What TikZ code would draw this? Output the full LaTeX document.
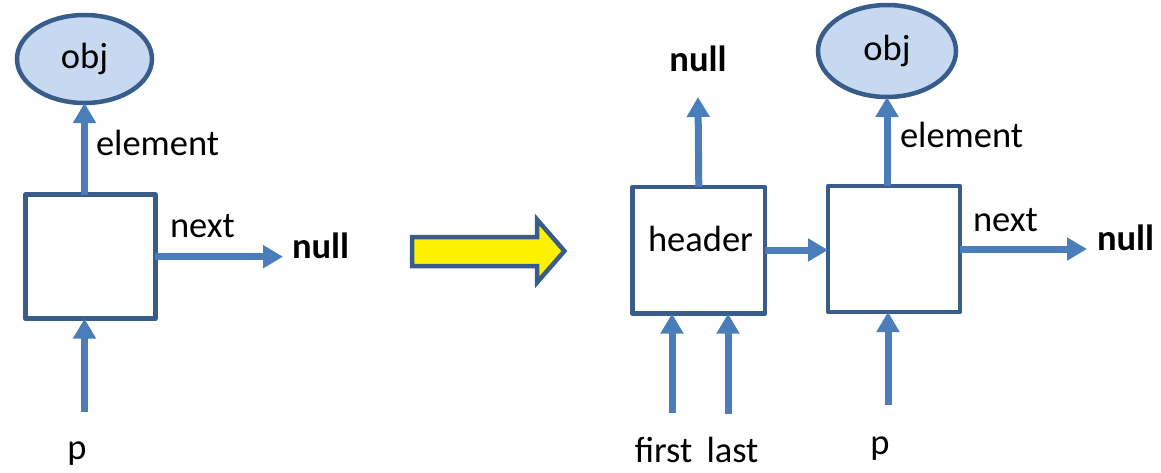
\documentclass[tikz,border=0pt]{standalone}
\usepackage{fontspec}
\setmainfont{Carlito}
\usetikzlibrary{arrows.meta,shapes.geometric}
\definecolor{boxc}{HTML}{385D8A}
\definecolor{arrc}{HTML}{4A7EBB}
\definecolor{objc}{HTML}{C6D9F1}
\begin{document}
\begin{tikzpicture}[x=1pt,y=-1pt,
  every node/.style={font=\fontsize{36.5}{40}\selectfont, inner sep=0pt, outer sep=0pt},
  boxnode/.style={draw=boxc, line width=4.5pt, fill=white, line join=round},
  objnode/.style={ellipse, draw=boxc, line width=4.5pt, fill=objc},
  arr/.style={draw=arrc, line width=7pt, -{Triangle[width=22pt,length=20pt]}},
  lbl/.style={anchor=base west},
  ctr/.style={anchor=base}]
\useasboundingbox (0,0) rectangle (1161,472);

% ---------- left diagram ----------
\node[boxnode, minimum width=130pt, minimum height=124pt] (box1) at (90.3,256.7) {};
\node[objnode, minimum width=135pt, minimum height=88pt] (obj1) at (84.5,59) {obj};
\node[lbl] (el1) at (96,155) {element};
\node[lbl] (nx1) at (170,237.3) {next};
\node[lbl] (nl1) at (292,258.3) {\bfseries null};
\node[ctr] (p1) at (77,459) {p};
\coordinate (p1s) at (84.5,412);
\coordinate (n1e) at (283,256.7);

\draw[arr] (obj1.south |- box1.north) -- (obj1.south);
\draw[arr] (box1.east) -- (n1e);
\draw[arr] (p1s) -- (p1s |- box1.south);

% ---------- transition arrow ----------
\draw[boxc, line width=4.5pt, fill=yellow, line join=miter]
  (412,237) -- (537,237) -- (537,219.5) -- (564.4,251) -- (537,282.5) -- (537,266) -- (412,266) -- cycle;

% ---------- right diagram ----------
\node[boxnode, minimum width=132.3pt, minimum height=126.7pt] (hbox) at (698.8,250.3) {};
\node[ctr] (htext) at (700.5,251.7) {header};
\node[boxnode, minimum width=132pt, minimum height=126pt] (box2) at (894,249) {};
\node[objnode, minimum width=138pt, minimum height=92pt] (obj2) at (887,51) {obj};
\node[ctr] (nlt) at (698,71) {\bfseries null};
\coordinate (ntop) at (698,97);
\node[lbl] (el2) at (900,147) {element};
\node[lbl] (nx2) at (973,231.7) {next};
\node[lbl] (nl2) at (1097,250) {\bfseries null};
\coordinate (n2e) at (1087,249);
\node[ctr] (first) at (663.5,462) {first};
\node[ctr] (last) at (732.5,462.5) {last};
\node[ctr] (p2) at (880,454.5) {p};
\coordinate (fs) at (672,413);
\coordinate (ls) at (728,414);
\coordinate (p2s) at (888,405);

\draw[arr] (hbox.north) -- (ntop);
\draw[arr] (obj2.south |- box2.north) -- (obj2.south);
\draw[arr] (hbox.east |- 0,250) -- (box2.west |- 0,250);
\draw[arr] (box2.east) -- (n2e);
\draw[arr] (fs) -- (fs |- hbox.south);
\draw[arr] (ls) -- (ls |- hbox.south);
\draw[arr] (p2s) -- (p2s |- box2.south);
\end{tikzpicture}
\end{document}
